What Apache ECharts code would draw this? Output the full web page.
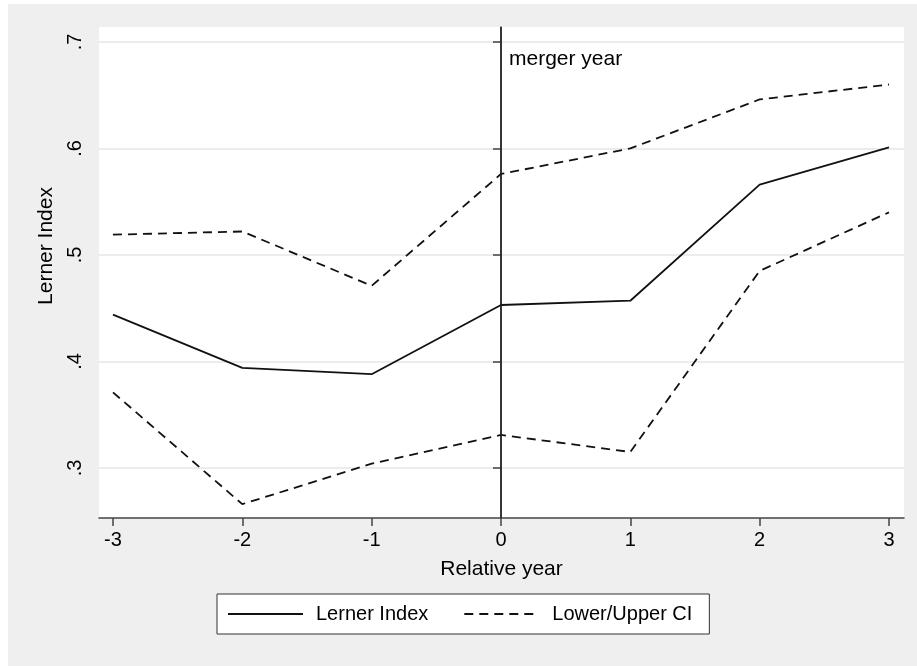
<!DOCTYPE html>
<html>
<head>
<meta charset="utf-8">
<script src="https://cdn.jsdelivr.net/npm/echarts@6/dist/echarts.min.js"></script>
<style>html,body{margin:0;padding:0;background:#fff;}#c{width:917px;height:666px;}</style>
</head>
<body>
<div id="c"></div>
<script>
// Data
var years = [-3, -2, -1, 0, 1, 2, 3];
var lerner = [0.444, 0.394, 0.388, 0.453, 0.457, 0.566, 0.601];
var lowerCI = [0.371, 0.266, 0.304, 0.331, 0.315, 0.485, 0.540];
var upperCI = [0.519, 0.522, 0.471, 0.576, 0.600, 0.646, 0.660];
var yTicks = [0.3, 0.4, 0.5, 0.6, 0.7];
var xTicks = [-3, -2, -1, 0, 1, 2, 3];
var mergerYear = 0;

function pairs(vals) { return years.map(function (y, i) { return [y, vals[i]]; }); }

var FONT = 'Liberation Sans, Arial, Helvetica, sans-serif';
var chart = echarts.init(document.getElementById('c'));
var dash = [9, 6];
chart.setOption({
  backgroundColor: '#ffffff',
  animation: false,
  textStyle: { fontFamily: FONT, color: '#000' },
  graphic: [
    { type: 'rect', z: -10, silent: true, shape: { x: 8, y: 4, width: 909, height: 662 }, style: { fill: '#efefef' } },
    { type: 'text', silent: true, rotation: Math.PI / 2, x: 46, y: 246,
      style: { text: 'Lerner Index', font: '21px ' + FONT, fill: '#000', textAlign: 'center', textVerticalAlign: 'middle' } }
  ],
  grid: { left: 99, right: 13, top: 27, bottom: 148, show: true, backgroundColor: '#ffffff', borderWidth: 0 },
  legend: {
    left: 217, top: 594,
    data: ['Lerner Index', 'Lower/Upper CI'],
    itemWidth: 75, itemHeight: 14, itemGap: 35,
    padding: [10, 17, 10, 10],
    backgroundColor: '#ffffff', borderColor: '#333', borderWidth: 1, borderRadius: 0,
    itemStyle: { color: 'rgba(0,0,0,0)', borderColor: 'rgba(0,0,0,0)', borderWidth: 0 },
    textStyle: { fontSize: 20, color: '#000', fontFamily: FONT, padding: [0, 0, 0, 8] }
  },
  xAxis: {
    type: 'value', min: -3.108, max: 3.116,
    name: 'Relative year', nameLocation: 'middle', nameGap: 41,
    nameTextStyle: { fontSize: 21, color: '#000', fontFamily: FONT },
    axisLine: { show: true, lineStyle: { color: '#444', width: 1.5 } },
    axisTick: { show: true, length: 8, customValues: xTicks, lineStyle: { color: '#444', width: 1.5 } },
    axisLabel: { customValues: xTicks, fontSize: 20, color: '#000', margin: 12, fontFamily: FONT },
    splitLine: { show: false }
  },
  yAxis: {
    type: 'value', min: 0.253, max: 0.714,
    axisLine: { show: true, lineStyle: { color: '#444', width: 1.5 } },
    axisTick: { show: true, length: 8, customValues: yTicks, lineStyle: { color: '#444', width: 1.5 } },
    axisLabel: { customValues: yTicks, fontSize: 20, color: '#000', rotate: 90, margin: 14, fontFamily: FONT,
      formatter: function (v) { return '.' + Math.round(v * 10); } },
    splitLine: { show: true, lineStyle: { color: '#e6e6e6', width: 1.5 } }
  },
  series: [
    { name: 'Lerner Index', type: 'line', data: pairs(lerner), symbol: 'none',
      lineStyle: { color: '#111', width: 1.8, type: 'solid' }, itemStyle: { color: '#111' },
      markLine: { silent: true, symbol: 'none', label: { show: false },
        lineStyle: { color: '#222', width: 1.5, type: 'solid' },
        data: [{ xAxis: mergerYear }] },
      markPoint: { silent: true, symbol: 'rect', symbolSize: 0,
        label: { show: true, position: 'right', distance: 8, formatter: 'merger year', fontSize: 21, color: '#000', fontFamily: FONT },
        data: [{ coord: [mergerYear, 0.684] }] }
    },
    { name: 'Lower/Upper CI', type: 'line', data: pairs(upperCI), symbol: 'none',
      lineStyle: { color: '#111', width: 1.8, type: dash }, itemStyle: { color: '#111' } },
    { name: 'Lower/Upper CI', type: 'line', data: pairs(lowerCI), symbol: 'none',
      lineStyle: { color: '#111', width: 1.8, type: dash }, itemStyle: { color: '#111' } }
  ]
});
</script>
</body>
</html>
